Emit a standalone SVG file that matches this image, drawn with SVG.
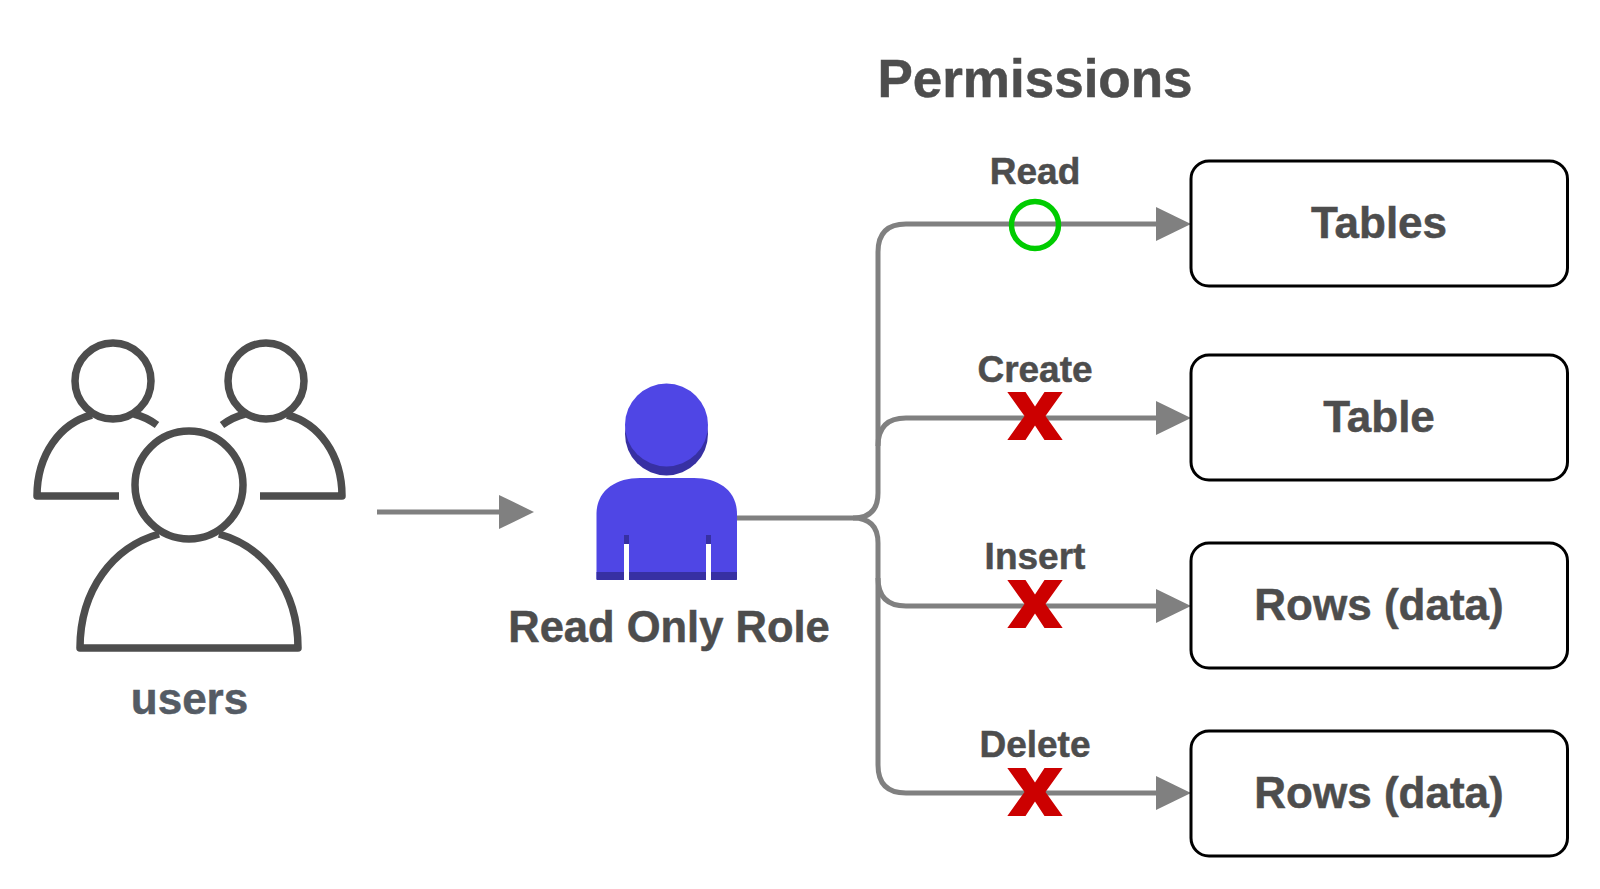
<svg xmlns="http://www.w3.org/2000/svg" width="1600" height="889" viewBox="0 0 1600 889">
<style>
text{font-family:"Liberation Sans",Arial,Helvetica,sans-serif;font-weight:700;fill:#4d4d4d;text-anchor:middle;stroke:#4d4d4d;stroke-width:.5}
.box{fill:#fff;stroke:#000;stroke-width:3}
.icon{fill:none;stroke:#4d4d4d;stroke-width:7.5;stroke-linejoin:round}
.conn{fill:none;stroke:#808080;stroke-width:5}
.light{fill:#4f46e5}
.dark{fill:#3730a3}
.t36{font-size:37px}
.t42{font-size:44px}
.t43{font-size:43.5px}
.deny{fill:#cc0000}
</style>
<defs>
<marker id="arrow" markerUnits="userSpaceOnUse" markerWidth="35" markerHeight="34" refX="4" refY="17" orient="auto">
<path d="M0 0L35 17L0 34Z" fill="#808080"/>
</marker>
<polygon id="cross" points="-27.700,-24 -9.500,-24 0,-9.500 9.500,-24 27.700,-24 10.500,0 27.700,24 9.500,24 0,9.500 -9.500,24 -27.700,24 -10.500,0"/>
</defs>
<rect width="1600" height="889" fill="#fff"/>
<g id="connectors">
<path class="conn" marker-end="url(#arrow)" d="M377 512H503"/>
<path class="conn" marker-end="url(#arrow)" d="M737 518H853Q878 518 878 493V252Q878 224 906 224H1160"/>
<path class="conn" marker-end="url(#arrow)" d="M878 446Q878 418 906 418H1160"/>
<path class="conn" marker-end="url(#arrow)" d="M853 518Q878 518 878 543V578Q878 606 906 606H1160"/>
<path class="conn" marker-end="url(#arrow)" d="M878 578V765Q878 793 906 793H1160"/>
</g>
<g id="users">
<circle class="icon" cx="113" cy="381" r="38"/>
<circle class="icon" cx="266" cy="381" r="38"/>
<path class="icon" d="M92 415C60 423 37 455 37 496H119"/>
<path class="icon" d="M134 414Q146 417 157 425"/>
<path class="icon" d="M287 415C319 423 342 455 342 496H260"/>
<path class="icon" d="M245 414Q233 417 222 425"/>
<circle class="icon" cx="189" cy="485" r="54"/>
<path class="icon" d="M159 534C113 547 80 590 80 648H298C298 590 265 547 219 534"/>
<text x="189.500" y="714" style="fill:#545b64;stroke:#545b64;font-size:44px">users</text>
</g>
<g id="role">
<circle class="dark" cx="666.500" cy="434" r="41.500"/>
<circle class="light" cx="666.500" cy="425" r="41.500"/>
<path class="light" d="M596.500 514C596.500 491 615 478 640 478H694C719 478 737 491 737 514V579Q737 580 736 580H597.500Q596.500 580 596.500 579Z"/>
<path class="dark" d="M596.500 572H737V579Q737 580 736 580H597.500Q596.500 580 596.500 579Z"/>
<rect class="dark" x="624" y="535" width="5" height="9"/>
<rect class="dark" x="706" y="535" width="5" height="9"/>
<rect x="624" y="544" width="5" height="37" fill="#fff"/>
<rect x="706" y="544" width="5" height="37" fill="#fff"/>
<text x="669" y="642" class="t43">Read Only Role</text>
</g>
<g id="permissions-title"><text x="1035" y="97" font-size="53">Permissions</text></g>
<g id="perm-read">
<text x="1035" y="184" class="t36">Read</text>
<circle cx="1035" cy="225" r="23.500" fill="none" stroke="#00cc00" stroke-width="5.500"/>
</g>
<g id="perm-create">
<text x="1035" y="382" class="t36">Create</text>
<use href="#cross" x="1035" y="416" class="deny"/>
</g>
<g id="perm-insert">
<text x="1035" y="569" class="t36">Insert</text>
<use href="#cross" x="1035" y="604" class="deny"/>
</g>
<g id="perm-delete">
<text x="1035" y="757" class="t36">Delete</text>
<use href="#cross" x="1035" y="792" class="deny"/>
</g>
<g id="tables">
<rect class="box" x="1191" y="161" width="376.500" height="125" rx="18"/>
<text x="1379" y="238" class="t42">Tables</text>
</g>
<g id="table">
<rect class="box" x="1191" y="355" width="376.500" height="125" rx="18"/>
<text x="1379" y="432" class="t42">Table</text>
</g>
<g id="rows-1">
<rect class="box" x="1191" y="543" width="376.500" height="125" rx="18"/>
<text x="1379" y="620" class="t42">Rows (data)</text>
</g>
<g id="rows-2">
<rect class="box" x="1191" y="731" width="376.500" height="125" rx="18"/>
<text x="1379" y="808" class="t42">Rows (data)</text>
</g>
</svg>
